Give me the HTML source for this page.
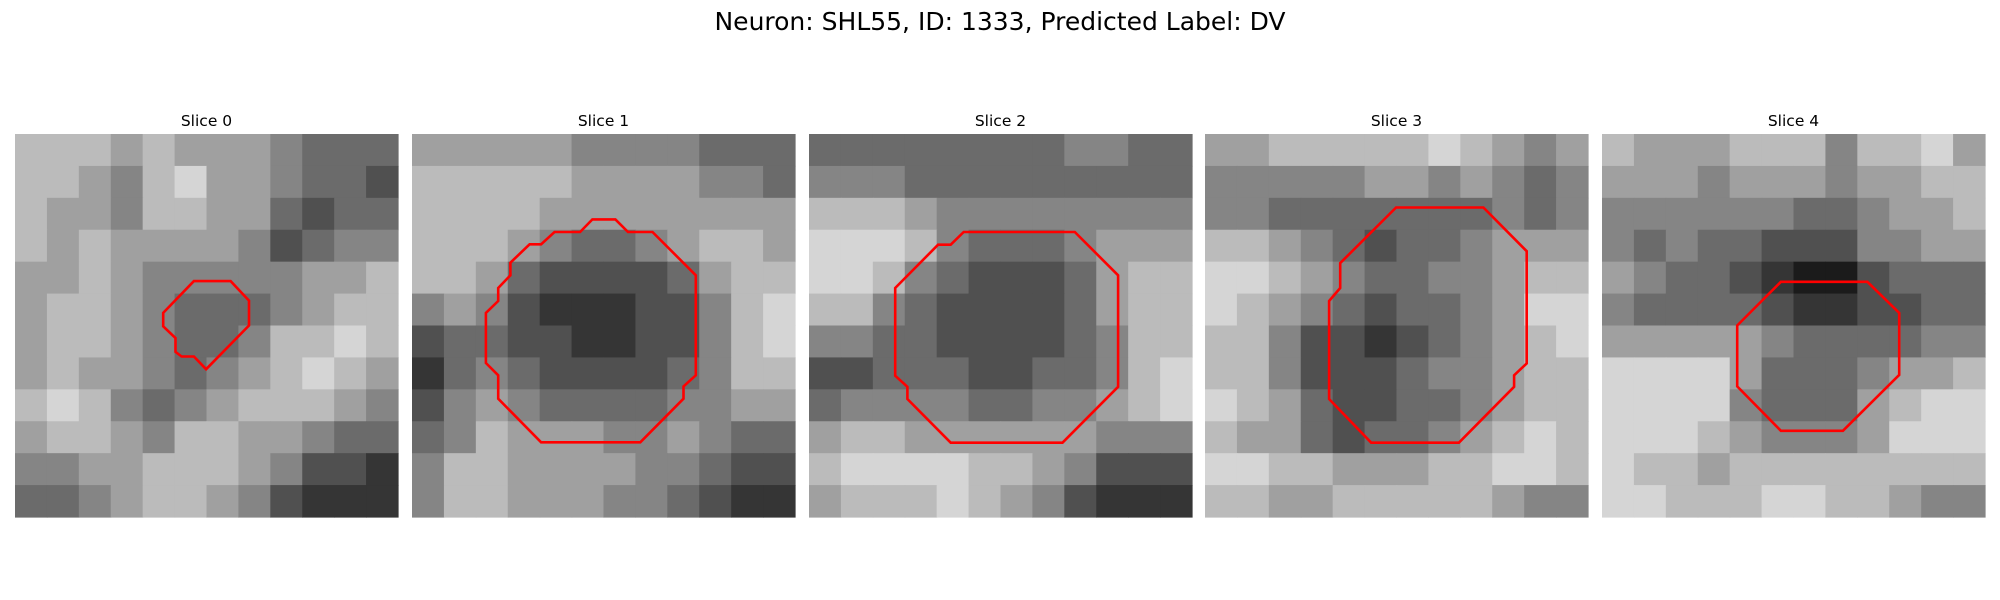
<!DOCTYPE html>
<html><head><meta charset="utf-8"><style>
body{margin:0;background:#fff;}
svg{display:block;font-family:"DejaVu Sans","Liberation Sans",sans-serif;}
</style></head><body>
<svg id="fig" width="2000" height="600" viewBox="0 0 2000 600">
<text x="1000" y="23" text-anchor="middle" dominant-baseline="middle" font-size="25" fill="#000">Neuron: SHL55, ID: 1333, Predicted Label: DV</text>
</svg>
<script>
const sliceTitles = ["Slice 0","Slice 1","Slice 2","Slice 3","Slice 4"];
const intensity0 = [
[7,7,7,6,7,6,6,6,5,4,4,4],[7,7,6,5,7,8,6,6,5,4,4,3],[7,6,6,5,7,7,6,6,4,3,4,4],[7,6,7,6,6,6,6,5,3,4,5,5],
[6,6,7,6,5,5,5,5,5,6,6,7],[6,7,7,6,5,4,4,4,5,6,7,7],[6,7,7,6,5,4,4,5,7,7,8,7],[6,7,6,6,5,4,5,6,7,8,7,6],
[7,8,7,5,4,5,6,7,7,7,6,5],[6,7,7,6,5,7,7,6,6,5,4,4],[5,5,6,6,7,7,7,6,5,3,3,2],[4,4,5,6,7,7,6,5,3,2,2,2]];
const intensity1 = [
[6,6,6,6,6,5,5,5,5,4,4,4],[7,7,7,7,7,6,6,6,6,5,5,4],[7,7,7,7,6,6,6,6,6,6,6,6],[7,7,7,6,5,4,4,5,6,7,7,6],
[7,7,6,4,3,3,3,3,4,6,7,7],[5,6,5,3,2,2,2,3,3,5,7,8],[3,4,4,3,3,2,2,3,3,5,7,8],[2,4,5,4,3,3,3,3,4,5,7,7],
[3,5,6,5,4,4,4,4,5,5,6,6],[4,5,7,6,6,6,5,5,6,5,4,4],[5,7,7,6,6,6,6,5,5,4,3,3],[5,7,7,6,6,6,5,5,4,3,2,2]];
const intensity2 = [
[4,4,4,4,4,4,4,4,5,5,4,4],[5,5,5,4,4,4,4,4,4,4,4,4],[7,7,7,6,5,5,5,5,5,5,5,5],[8,8,8,7,5,4,4,4,5,6,6,6],
[8,8,7,5,4,3,3,3,4,6,7,7],[7,7,5,4,3,3,3,3,4,6,7,7],[5,5,4,4,3,3,3,3,4,5,7,7],[3,3,4,4,4,3,3,4,4,5,7,8],
[4,5,5,5,5,4,4,5,5,6,7,8],[6,7,7,6,6,6,6,6,6,5,5,5],[7,8,8,8,8,7,7,6,5,3,3,3],[6,7,7,7,8,7,6,5,3,2,2,2]];
const intensity3 = [
[6,6,7,7,7,7,7,8,7,6,5,6],[5,5,5,5,5,6,6,5,6,5,4,5],[5,5,4,4,4,4,4,4,4,5,4,5],[7,7,6,5,4,3,4,4,5,6,6,6],
[8,8,7,6,5,4,4,5,5,6,7,7],[8,7,6,5,4,3,4,4,5,6,8,8],[7,7,5,3,3,2,3,4,5,6,7,8],[7,7,5,3,3,3,4,5,5,6,7,7],
[8,7,6,4,3,3,4,4,5,6,7,7],[7,6,6,4,3,4,4,5,6,7,8,7],[8,8,7,7,6,6,6,7,7,8,8,7],[7,7,6,6,7,7,7,7,7,6,5,5]];
const intensity4 = [
[7,6,6,6,7,7,7,5,7,7,8,6],[6,6,6,5,6,6,6,5,6,6,7,7],[5,5,5,5,5,5,4,4,5,6,6,7],[5,4,5,4,4,3,3,3,5,5,6,6],
[6,5,4,4,3,2,1,1,3,4,4,4],[5,4,4,4,4,3,2,2,3,3,4,4],[6,6,6,6,6,5,4,4,4,4,5,5],[8,8,8,8,6,4,4,4,5,6,6,7],
[8,8,8,8,5,4,4,4,6,7,8,8],[8,8,8,7,6,5,5,5,6,8,8,8],[8,7,7,6,7,7,7,7,7,7,7,7],[8,8,7,7,7,8,8,7,7,6,5,5]];
const contour0 = [[.467,.384],[.563,.384],[.611,.435],[.611,.50],[.499,.614],[.467,.581],[.435,.581],[.419,.569],[.419,.533],[.387,.502],[.387,.467]];
const contour1 = [[.471,.223],[.531,.223],[.564,.256],[.628,.256],[.741,.369],[.741,.630],[.709,.659],[.709,.691],[.596,.805],[.337,.805],[.225,.691],[.225,.630],[.193,.598],[.193,.467],[.225,.436],[.225,.402],[.257,.369],[.257,.336],[.307,.288],[.337,.288],[.372,.256],[.439,.256]];
const contour2 = [[.404,.256],[.694,.256],[.807,.369],[.807,.66],[.662,.806],[.370,.806],[.257,.692],[.257,.66],[.225,.631],[.225,.402],[.337,.289],[.370,.289]];
const contour3 = [[.499,.192],[.727,.192],[.840,.306],[.840,.599],[.807,.630],[.807,.660],[.663,.806],[.434,.806],[.324,.692],[.324,.436],[.353,.402],[.353,.337]];
const contour4 = [[.467,.386],[.693,.386],[.776,.467],[.776,.629],[.629,.775],[.467,.775],[.353,.659],[.353,.5]];
const intensities=[intensity0,intensity1,intensity2,intensity3,intensity4];
const contours=[contour0,contour1,contour2,contour3,contour4];
const NS="http://www.w3.org/2000/svg";
const svg=document.getElementById('fig');
const lefts=[15,412,809,1205,1602], top0=134, size=383;
function gray(v){const g=Math.round(v/9*240);return `rgb(${g},${g},${g})`;}
intensities.forEach((grid,p)=>{
  const g=document.createElementNS(NS,'g');
  
  
  svg.appendChild(g);
  const t=document.createElementNS(NS,'text');
  
  
  t.setAttribute('x',lefts[p]+size/2);t.setAttribute('y',126);
  t.setAttribute('text-anchor','middle');t.setAttribute('font-size','15.5');
  t.textContent=sliceTitles[p];g.appendChild(t);
  const n=grid.length,m=grid[0].length;
  const cw=size/m,ch=size/n;
  grid.forEach((row,r)=>row.forEach((v,c)=>{
    const rc=document.createElementNS(NS,'rect');
    
    
    rc.setAttribute('x',(lefts[p]+c*cw).toFixed(2));rc.setAttribute('y',(top0+r*ch).toFixed(2));
    rc.setAttribute('width',(cw+0.6).toFixed(2));rc.setAttribute('height',(ch+0.6).toFixed(2));
    rc.setAttribute('fill',gray(v));g.appendChild(rc);
  }));
  const pl=document.createElementNS(NS,'polygon');
  
  
  pl.setAttribute('points',contours[p].map(([x,y])=>(lefts[p]+x*size).toFixed(1)+','+(top0+y*size).toFixed(1)).join(' '));
  pl.setAttribute('fill','none');pl.setAttribute('stroke','#ff0000');pl.setAttribute('stroke-width','2.6');
  g.appendChild(pl);
});
</script>
</body></html>
